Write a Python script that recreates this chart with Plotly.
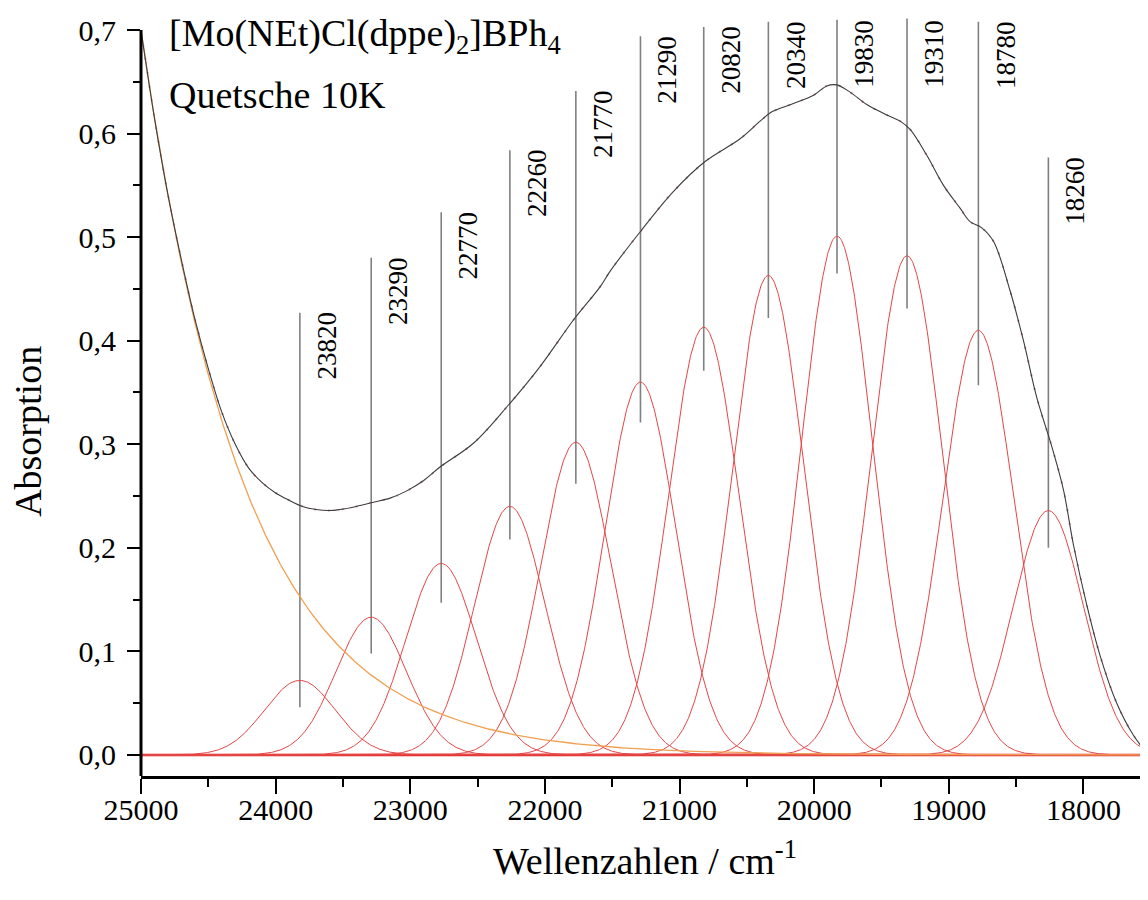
import numpy as np
import plotly.graph_objects as go

# ---- data ----
peak_centers = [23820, 23290, 22770, 22260, 21770, 21290, 20820, 20340, 19830, 19310, 18780, 18260]
peak_heights = [0.072, 0.133, 0.185, 0.240, 0.302, 0.360, 0.413, 0.463, 0.501, 0.482, 0.410, 0.236]
peak_sigma = [262] * 12
peak_labels = ["23820", "23290", "22770", "22260", "21770", "21290",
               "20820", "20340", "19830", "19310", "18780", "18260"]
# extents of the vertical marker lines (absorption units)
marker_top = [0.427, 0.480, 0.524, 0.584, 0.641, 0.694, 0.703, 0.708, 0.710, 0.711, 0.708, 0.577]
marker_bottom = [0.046, 0.098, 0.147, 0.208, 0.262, 0.321, 0.371, 0.422, 0.465, 0.431, 0.357, 0.200]

spec_x = [25000, 24900, 24800, 24700, 24600, 24500, 24400, 24300, 24200, 24100,
          24000, 23900, 23800, 23700, 23600, 23522, 23400, 23274, 23150, 23026,
          22900, 22779, 22531, 22283, 22036, 21788, 21590,
          21516, 21293, 21046, 20810, 20550, 20401, 20314, 20154, 20005, 19906,
          19832, 19733, 19609, 19460, 19361, 19287, 19163, 19039, 18916, 18842,
          18755, 18668, 18544, 18445, 18346, 18235, 18148, 18074, 17975, 17876,
          17752, 17628, 17529]
spec_y = [0.700, 0.615, 0.541, 0.478, 0.421, 0.373, 0.331, 0.300, 0.277, 0.263,
          0.253, 0.246, 0.240, 0.237, 0.236, 0.237, 0.240, 0.244, 0.248, 0.255,
          0.265, 0.278, 0.301, 0.336, 0.375, 0.420, 0.452,
          0.467, 0.505, 0.544, 0.573, 0.595, 0.612, 0.621, 0.629, 0.637, 0.646,
          0.647, 0.640, 0.628, 0.618, 0.612, 0.604, 0.579, 0.550, 0.528, 0.515,
          0.509, 0.496, 0.448, 0.400, 0.345, 0.298, 0.256, 0.203, 0.145, 0.096,
          0.050, 0.019, 0.002]

background_amp = 0.70      # absorption at 25000 cm-1
background_decay = 775     # cm-1

x_ticks = [25000, 24000, 23000, 22000, 21000, 20000, 19000, 18000]
y_ticks = [0.0, 0.1, 0.2, 0.3, 0.4, 0.5, 0.6, 0.7]

X_MAX, X_MIN = 25000, 17520
Y_MIN, Y_MAX = -0.0203, 0.7116

FONT = "Liberation Serif"

x = np.linspace(X_MAX, X_MIN, 1497)
background = background_amp * np.exp(-(X_MAX - x) / background_decay)
gauss = [h * np.exp(-(x - c) ** 2 / (2 * s ** 2))
         for c, h, s in zip(peak_centers, peak_heights, peak_sigma)]

fig = go.Figure()

# vertical marker lines
for c, t, b in zip(peak_centers, marker_top, marker_bottom):
    fig.add_trace(go.Scatter(x=[c, c], y=[b, t], mode="lines",
                             line=dict(color="rgb(128,128,128)", width=1.6),
                             hoverinfo="skip", showlegend=False))

# baseline
fig.add_trace(go.Scatter(x=[X_MAX, X_MIN], y=[0, 0], mode="lines",
                         line=dict(color="rgb(232,30,30)", width=2.6),
                         hoverinfo="skip", showlegend=False))

# gaussian components
for g in gauss:
    fig.add_trace(go.Scatter(x=x, y=g, mode="lines",
                             line=dict(color="rgb(228,70,70)", width=1),
                             hoverinfo="skip", showlegend=False))

# exponential background
fig.add_trace(go.Scatter(x=x, y=background, mode="lines",
                         line=dict(color="rgb(240,160,80)", width=1.3),
                         hoverinfo="skip", showlegend=False))

# measured data (dotted) and fit envelope
fig.add_trace(go.Scatter(x=spec_x, y=spec_y, mode="lines",
                         line=dict(color="rgb(200,150,160)", width=2,
                                   dash="2px,12px", shape="spline", smoothing=1.0),
                         hoverinfo="skip", showlegend=False))
fig.add_trace(go.Scatter(x=spec_x, y=spec_y, mode="lines",
                         line=dict(color="rgb(60,60,60)", width=1.1,
                                   shape="spline", smoothing=1.0),
                         hoverinfo="skip", showlegend=False))

annotations = []
for c, t, lab in zip(peak_centers, marker_top, peak_labels):
    annotations.append(dict(x=c, y=min(t, 0.709), xref="x", yref="y", text=lab,
                            textangle=-90, showarrow=False, xanchor="center",
                            yanchor="top", xshift=27, yshift=3,
                            font=dict(family=FONT, size=27, color="black")))

annotations.append(dict(x=0.026, y=0.976, xref="paper", yref="paper",
                        text="[Mo(NEt)Cl(dppe)<sub>2</sub>]BPh<sub>4</sub>",
                        showarrow=False, xanchor="left", yanchor="middle",
                        font=dict(family=FONT, size=38, color="black")))
annotations.append(dict(x=0.026, y=0.898, xref="paper", yref="paper",
                        text="Quetsche 10K", showarrow=False,
                        xanchor="left", yanchor="middle",
                        font=dict(family=FONT, size=38, color="black")))
# axis titles
annotations.append(dict(x=0.5, y=0, xref="paper", yref="paper",
                        text="Wellenzahlen / cm<sup>-1</sup>", showarrow=False,
                        xanchor="center", yanchor="middle", yshift=-82,
                        font=dict(family=FONT, size=38, color="black")))
annotations.append(dict(x=0, y=0.454, xref="paper", yref="paper",
                        text="Absorption", showarrow=False, textangle=-90,
                        xanchor="center", yanchor="middle", xshift=-113,
                        font=dict(family=FONT, size=38, color="black")))

shapes = [dict(type="line", xref="paper", yref="y", x0=0, x1=0, y0=Y_MIN, y1=0.7,
               line=dict(color="black", width=3))]

# page body has an 8px margin: figure size/margins compensate so the plot area
# lands on the same page pixels as the reference
fig.update_layout(
    width=1140, height=884,
    margin=dict(l=133, r=0, t=10, b=116, autoexpand=False),
    paper_bgcolor="white", plot_bgcolor="white",
    separators=",.",
    showlegend=False,
    annotations=annotations,
    shapes=shapes,
    font=dict(family=FONT, color="black"),
)
fig.update_xaxes(range=[X_MAX, X_MIN], tickvals=x_ticks, tickformat="d",
                 showgrid=False, zeroline=False, showline=True, automargin=False,
                 linecolor="black", linewidth=3, ticks="outside", ticklen=15,
                 tickwidth=2, tickcolor="black", ticklabelstandoff=-10,
                 tickfont=dict(family=FONT, size=30, color="black"),
                 minor=dict(dtick=500, tick0=0, ticks="outside", ticklen=8,
                            tickwidth=2, tickcolor="black"))
fig.update_yaxes(range=[Y_MIN, Y_MAX], tickvals=y_ticks, tickformat=".1f",
                 showgrid=False, zeroline=False, showline=False, automargin=False,
                 ticks="outside", ticklen=13, tickwidth=2, tickcolor="black",
                 ticklabelstandoff=5,
                 tickfont=dict(family=FONT, size=30, color="black"),
                 minor=dict(tickvals=[0.05, 0.15, 0.25, 0.35, 0.45, 0.55, 0.65],
                            ticks="outside", ticklen=7, tickwidth=2,
                            tickcolor="black"))

fig.write_html("out.html")
